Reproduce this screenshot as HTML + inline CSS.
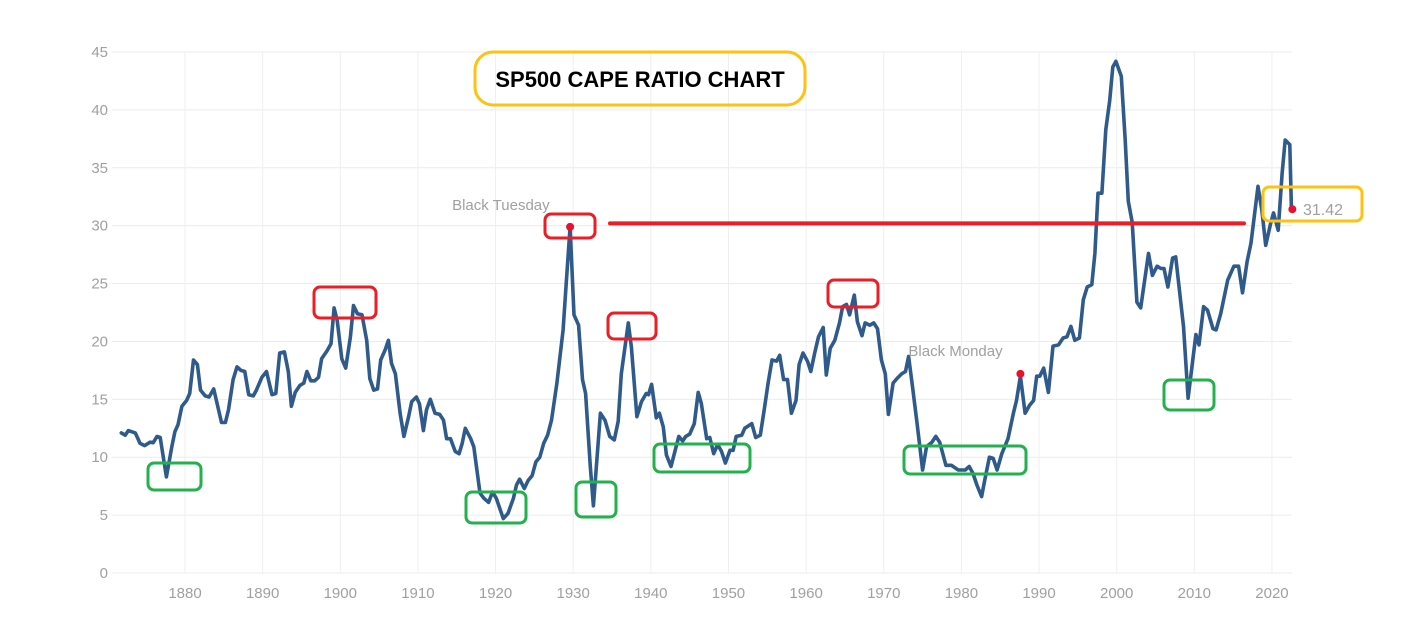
<!DOCTYPE html>
<html><head><meta charset="utf-8">
<style>
html,body{margin:0;padding:0;background:#fff;}
svg{display:block;font-family:"Liberation Sans",sans-serif;}
</style></head>
<body>
<svg id="chart" width="1428" height="628" xmlns="http://www.w3.org/2000/svg">
<g id="grid"></g>
<g id="yaxis"></g>
<g id="xaxis"></g>
<g id="series"></g>
<g id="annot"></g>
</svg>
<script>
const years=[1871.8,1872.3,1872.7,1873.6,1874.2,1874.8,1875.5,1875.9,1876.4,1876.8,1877.6,1878.3,1878.7,1879.1,1879.6,1880.2,1880.6,1881.1,1881.6,1882.0,1882.6,1883.1,1883.7,1884.7,1885.2,1885.6,1886.2,1886.7,1887.2,1887.7,1888.2,1888.8,1889.2,1889.9,1890.5,1891.2,1891.7,1892.2,1892.8,1893.3,1893.7,1894.2,1894.8,1895.3,1895.7,1896.2,1896.7,1897.2,1897.6,1898.3,1898.8,1899.2,1899.6,1900.2,1900.7,1901.3,1901.7,1902.2,1902.8,1903.4,1903.8,1904.3,1904.8,1905.2,1905.8,1906.2,1906.6,1907.1,1907.7,1908.2,1908.8,1909.2,1909.8,1910.2,1910.7,1911.1,1911.6,1912.2,1912.8,1913.3,1913.7,1914.2,1914.8,1915.3,1915.7,1916.1,1916.8,1917.2,1918.0,1918.5,1919.1,1919.6,1920.1,1921.0,1921.6,1922.3,1922.7,1923.1,1923.7,1924.2,1924.7,1925.2,1925.7,1926.2,1926.7,1927.2,1927.9,1928.7,1929.1,1929.6,1930.1,1930.7,1931.2,1931.6,1932.2,1932.6,1933.5,1934.1,1934.7,1935.3,1935.8,1936.2,1937.1,1937.5,1938.2,1938.8,1939.4,1939.7,1940.1,1940.7,1941.1,1941.6,1942.0,1942.6,1943.1,1943.6,1944.1,1944.5,1945.0,1945.6,1946.1,1946.5,1947.2,1947.6,1948.1,1948.6,1949.1,1949.6,1950.2,1950.6,1951.0,1951.7,1952.1,1953.0,1953.5,1954.1,1954.6,1955.1,1955.6,1956.2,1956.6,1957.1,1957.6,1958.1,1958.7,1959.1,1959.6,1960.2,1960.6,1961.1,1961.6,1962.2,1962.6,1963.1,1963.7,1964.3,1964.7,1965.2,1965.6,1966.2,1966.6,1967.2,1967.6,1968.2,1968.7,1969.2,1969.7,1970.2,1970.6,1971.2,1971.7,1972.3,1972.8,1973.2,1973.7,1974.3,1975.0,1975.5,1976.2,1976.7,1977.2,1978.0,1978.7,1979.6,1980.5,1981.0,1981.5,1982.0,1982.6,1983.0,1983.6,1984.1,1984.6,1985.2,1986.0,1986.7,1987.1,1987.6,1988.2,1988.8,1989.3,1989.7,1990.1,1990.6,1991.2,1991.8,1992.5,1993.1,1993.6,1994.1,1994.6,1995.2,1995.7,1996.2,1996.8,1997.2,1997.6,1998.1,1998.6,1999.1,1999.5,1999.9,2000.6,2001.1,2001.5,2002.0,2002.6,2003.1,2004.1,2004.6,2005.2,2005.7,2006.1,2006.6,2007.2,2007.6,2008.6,2009.2,2010.2,2010.6,2011.2,2011.7,2012.4,2012.8,2013.4,2014.3,2015.1,2015.7,2016.2,2016.8,2017.3,2018.2,2018.7,2019.2,2019.8,2020.2,2020.8,2021.3,2021.7,2022.3,2022.5];
const capeValues=[12.1,11.9,12.3,12.1,11.2,11.0,11.3,11.25,11.8,11.7,8.3,10.9,12.2,12.8,14.4,14.9,15.5,18.4,18.0,15.8,15.3,15.2,15.9,13.0,13.0,14.1,16.7,17.8,17.5,17.4,15.4,15.3,15.8,16.9,17.4,15.4,15.5,19.0,19.1,17.4,14.4,15.6,16.2,16.4,17.4,16.6,16.6,16.9,18.5,19.2,19.8,22.9,21.8,18.5,17.7,20.4,23.1,22.4,22.3,20.1,16.8,15.8,15.9,18.4,19.3,20.1,18.1,17.2,13.8,11.8,13.5,14.8,15.2,14.6,12.3,14.1,15.0,13.8,13.7,13.2,11.6,11.6,10.5,10.3,11.2,12.5,11.6,10.9,6.9,6.45,6.1,7.0,6.45,4.7,5.15,6.45,7.6,8.1,7.3,8.0,8.4,9.6,10.0,11.2,11.9,13.2,16.4,21.0,25.0,29.9,22.3,21.4,16.7,15.5,9.2,5.8,13.8,13.2,11.8,11.5,13.1,17.2,21.6,19.5,13.5,14.8,15.5,15.4,16.3,13.4,13.8,12.6,10.2,9.2,10.5,11.8,11.4,11.8,12.0,12.9,15.6,14.65,11.6,11.7,10.3,11.1,10.5,9.5,10.6,10.6,11.8,11.9,12.5,12.9,11.7,11.9,14.1,16.4,18.4,18.3,18.8,16.7,16.7,13.8,14.9,18.0,19.0,18.25,17.4,19.0,20.4,21.2,17.1,19.4,20.1,21.6,23.0,23.2,22.3,24.0,21.7,20.5,21.6,21.4,21.6,21.1,18.4,17.2,13.7,16.4,16.8,17.2,17.4,18.7,16.1,12.9,8.9,10.9,11.3,11.8,11.3,9.3,9.3,8.9,8.9,9.2,8.6,7.6,6.6,8.0,10.0,9.9,8.9,10.3,11.6,13.8,14.9,17.0,13.8,14.5,14.9,17.0,17.0,17.7,15.6,19.6,19.7,20.3,20.4,21.3,20.1,20.3,23.6,24.7,24.9,27.6,32.8,32.8,38.3,40.8,43.7,44.2,42.9,37.4,32.1,30.3,23.4,22.9,27.6,25.7,26.5,26.3,26.3,24.7,27.2,27.3,21.3,15.1,20.6,19.7,23.0,22.7,21.1,21.0,22.4,25.3,26.5,26.5,24.2,26.9,28.5,33.4,31.3,28.3,30.1,31.1,29.6,34.5,37.4,37.0,31.5];
const yTicks=[0,5,10,15,20,25,30,35,40,45];
const xTicks=[1880,1890,1900,1910,1920,1930,1940,1950,1960,1970,1980,1990,2000,2010,2020];
const events=[{label:"Black Tuesday",year:1929.6,value:29.9,lx:-118,ly:-17},{label:"Black Monday",year:1987.6,value:17.2,lx:-112,ly:-18}];
const lastPoint={year:2022.5,value:31.42};
const refLineValue=30.2;

const NS="http://www.w3.org/2000/svg";
const X=y=>185+(y-1880)*7.764;
const Y=v=>573-v*11.578;
function mk(tag,attrs,parent){const e=document.createElementNS(NS,tag);for(const k in attrs)e.setAttribute(k,attrs[k]);parent.appendChild(e);return e;}
const grid=document.getElementById('grid'),ya=document.getElementById('yaxis'),xa=document.getElementById('xaxis'),ser=document.getElementById('series'),an=document.getElementById('annot');

yTicks.forEach(t=>{
  const l=mk('line',{x1:112,x2:1292,y1:Y(t),y2:Y(t),stroke:'#ececec','stroke-width':1},grid);
  
  
  const tx=mk('text',{x:108,y:Y(t)+5,'text-anchor':'end','font-size':15,fill:'#a0a0a0'},ya);
  tx.textContent=t;
  
  
});
xTicks.forEach(t=>{
  const l=mk('line',{x1:X(t),x2:X(t),y1:52,y2:573,stroke:'#efefef','stroke-width':1},grid);
  
  
  const tx=mk('text',{x:X(t),y:598,'text-anchor':'middle','font-size':15,fill:'#a0a0a0'},xa);
  tx.textContent=t;
  
  
});

const d=years.map((y,i)=>(i?'L':'M')+X(y).toFixed(1)+','+Y(capeValues[i]).toFixed(1)).join(' ');
const path=mk('path',{d:d,fill:'none',stroke:'#2f5a8c','stroke-width':3.6,'stroke-linejoin':'round','stroke-linecap':'round'},ser);



events.forEach(ev=>{
  const c=mk('circle',{cx:X(ev.year),cy:Y(ev.value),r:4,fill:'#e8102a'},an);
  
  
  const t=mk('text',{x:X(ev.year)+ev.lx,y:Y(ev.value)+ev.ly,'font-size':15,fill:'#a0a0a0'},an);
  t.textContent=ev.label;
  
  
});
const lc=mk('circle',{cx:X(lastPoint.year)+1,cy:Y(lastPoint.value),r:4,fill:'#e8102a'},an);


const lt=mk('text',{x:1303,y:Y(lastPoint.value)+6,'font-size':16,fill:'#a0a0a0'},an);
lt.textContent=lastPoint.value.toFixed(2);



const rl=mk('line',{x1:610,x2:1244,y1:Y(refLineValue),y2:Y(refLineValue),stroke:'#ee1c25','stroke-width':4,'stroke-linecap':'round'},an);



function box(x1,y1,x2,y2,col,name){
  const r=mk('rect',{x:x1,y:y1,width:x2-x1,height:y2-y1,rx:6,fill:'none',stroke:col,'stroke-width':3},an);
  
  
}
const RED='#ee1c25',GREEN='#22b14c',YEL='#ffc20e';
box(545,214,595,238,RED,'peak-box');
box(314,287,376,318,RED,'peak-box');
box(608,313,656,339,RED,'peak-box');
box(828,280,878,307,RED,'peak-box');
box(148,463,201,490,GREEN,'trough-box');
box(466,492,526,523,GREEN,'trough-box');
box(576,482,616,517,GREEN,'trough-box');
box(654,444,750,472,GREEN,'trough-box');
box(904,446,1026,474,GREEN,'trough-box');
box(1164,380,1214,410,GREEN,'trough-box');
box(1263,187,1362,221,YEL,'current-value-box');
const tb=mk('rect',{x:475,y:52,width:330,height:53,rx:18,fill:'none',stroke:YEL,'stroke-width':3},an);


const tt=mk('text',{x:640,y:87,'text-anchor':'middle','font-size':22,'font-weight':'bold',fill:'#000'},an);
tt.textContent='SP500 CAPE RATIO CHART';


</script>
</body></html>
